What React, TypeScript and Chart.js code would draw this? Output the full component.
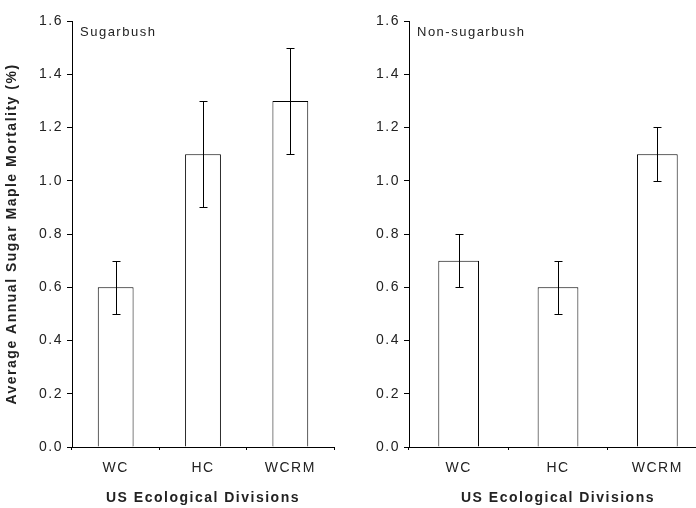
import React, { useEffect, useRef } from "react";
import { Chart, registerables } from "chart.js";

Chart.register(...registerables);

// ---- data ----
const categories = ["WC", "HC", "WCRM"];
const sugarbushValues = [0.6, 1.1, 1.3];
const sugarbushErrors = [0.1, 0.2, 0.2];
const nonSugarbushValues = [0.7, 0.6, 1.1];
const nonSugarbushErrors = [0.1, 0.1, 0.1];
const yMin = 0;
const yMax = 1.6;
const yStep = 0.2;
const panelLabels = ["Sugarbush", "Non-sugarbush"];
const yAxisTitle = "Average Annual Sugar Maple Mortality (%)";
const xAxisTitle = "US Ecological Divisions";

const FONT = "'Liberation Sans', Arial, Helvetica, sans-serif";
const TEXT = "#222";

type PanelOpts = {
  values: number[];
  errors: number[];
  label: string;
  yWidth: number;
  showYTitle: boolean;
  padRight: number;
};

function makeConfig(p: PanelOpts): any {
  const spacingPlugin = {
    id: "spacing",
    beforeDraw(chart: any) {
      try {
        chart.ctx.letterSpacing = "1.5px";
      } catch (e) {}
    },
  };
  const errorBars = {
    id: "errorBars",
    afterDatasetsDraw(chart: any) {
      const ctx = chart.ctx;
      const meta = chart.getDatasetMeta(0);
      const ys = chart.scales.y;
      ctx.save();
      ctx.strokeStyle = "#000";
      ctx.lineWidth = 1;
      meta.data.forEach((bar: any, i: number) => {
        const v = p.values[i];
        const e = p.errors[i];
        const x = Math.round(bar.x) + 0.5;
        const yt = Math.round(ys.getPixelForValue(v + e)) + 0.5;
        const yb = Math.round(ys.getPixelForValue(v - e)) + 0.5;
        ctx.beginPath();
        ctx.moveTo(x, yt);
        ctx.lineTo(x, yb);
        ctx.moveTo(x - 4, yt);
        ctx.lineTo(x + 4, yt);
        ctx.moveTo(x - 4, yb);
        ctx.lineTo(x + 4, yb);
        ctx.stroke();
      });
      ctx.restore();
    },
  };
  const panelLabel = {
    id: "panelLabel",
    afterDraw(chart: any) {
      const ctx = chart.ctx;
      const a = chart.chartArea;
      ctx.save();
      ctx.font = `13px ${FONT}`;
      ctx.fillStyle = TEXT;
      ctx.textAlign = "left";
      ctx.textBaseline = "middle";
      ctx.fillText(p.label, a.left + 8, a.top + 11);
      ctx.restore();
    },
  };

  return {
    type: "bar",
    data: {
      labels: categories,
      datasets: [
        {
          data: p.values,
          backgroundColor: "#fff",
          borderColor: "#000",
          borderWidth: 1,
          barPercentage: 0.41,
          categoryPercentage: 1,
        },
      ],
    },
    options: {
      responsive: false,
      animation: false,
      devicePixelRatio: 1,
      layout: { padding: { top: 21, right: p.padRight, bottom: 0, left: 0 } },
      plugins: {
        legend: { display: false },
        title: { display: false },
        tooltip: { enabled: false },
      },
      scales: {
        x: {
          type: "category",
          offset: true,
          grid: {
            offset: true,
            drawOnChartArea: false,
            drawTicks: true,
            tickLength: 3,
            color: "#000",
          },
          border: { display: true, color: "#000", width: 1 },
          ticks: {
            color: TEXT,
            font: { family: FONT, size: 14 },
            padding: 10,
            maxRotation: 0,
          },
          title: {
            display: true,
            text: xAxisTitle,
            color: TEXT,
            font: { family: FONT, size: 14, weight: "bold" },
            padding: { top: 0, bottom: 1 },
          },
          afterFit(s: any) {
            s.height = 61;
          },
        },
        y: {
          type: "linear",
          min: yMin,
          max: yMax,
          grid: {
            drawOnChartArea: false,
            drawTicks: true,
            tickLength: 5,
            color: "#000",
          },
          border: { display: true, color: "#000", width: 1 },
          ticks: {
            stepSize: yStep,
            color: TEXT,
            font: { family: FONT, size: 14 },
            padding: 4,
            callback: (v: any) => Number(v).toFixed(1),
          },
          title: {
            display: p.showYTitle,
            text: yAxisTitle,
            color: TEXT,
            font: { family: FONT, size: 14, weight: "bold" },
            padding: { top: 4, bottom: 0 },
          },
          afterFit(s: any) {
            s.width = p.yWidth;
          },
        },
      },
    },
    plugins: [spacingPlugin, errorBars, panelLabel],
  };
}

function Panel(props: PanelOpts & { left: number; width: number }) {
  const ref = useRef<HTMLCanvasElement>(null);
  useEffect(() => {
    if (!ref.current) return;
    const chart = new Chart(ref.current, makeConfig(props));
    return () => chart.destroy();
  }, []);
  return (
    <canvas
      ref={ref}
      width={props.width}
      height={508}
      style={{ position: "absolute", left: props.left, top: 0, width: props.width, height: 508 }}
    />
  );
}

export default function App() {
  useEffect(() => {
    document.body.style.margin = "0";
  }, []);
  return (
    <div
      style={{
        position: "absolute",
        left: 0,
        top: 0,
        width: 696,
        height: 508,
        overflow: "hidden",
        background: "#fff",
      }}
    >
      <Panel
        left={0}
        width={346}
        values={sugarbushValues}
        errors={sugarbushErrors}
        label={panelLabels[0]}
        yWidth={72}
        showYTitle={true}
        padRight={12}
      />
      <Panel
        left={346}
        width={372}
        values={nonSugarbushValues}
        errors={nonSugarbushErrors}
        label={panelLabels[1]}
        yWidth={63}
        showYTitle={false}
        padRight={11}
      />
    </div>
  );
}
